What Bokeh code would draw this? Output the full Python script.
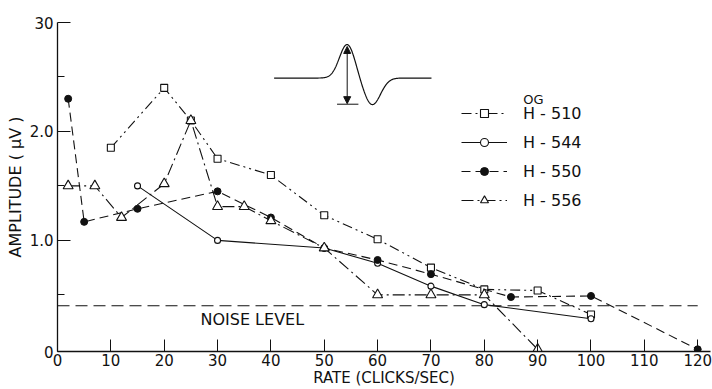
import numpy as np
from bokeh.plotting import figure
from bokeh.models import (Range1d, FixedTicker, Label, Arrow, NormalHead,
                          Legend, LegendItem)
from bokeh.embed import file_html
from bokeh.resources import INLINE

# ---------------- data ----------------
x_510 = [10, 20, 25, 30, 40, 50, 60, 70, 80, 90, 100]
y_510 = [1.85, 2.40, 2.10, 1.75, 1.60, 1.23, 1.01, 0.75, 0.55, 0.54, 0.32]

x_544 = [15, 30, 50, 60, 70, 80, 100]
y_544 = [1.50, 1.00, 0.93, 0.79, 0.58, 0.41, 0.28]

x_550 = [2, 5, 15, 30, 40, 50, 60, 70, 85, 100, 120]
y_550 = [2.30, 1.17, 1.29, 1.45, 1.21, 0.93, 0.82, 0.69, 0.48, 0.49, 0.0]

x_556 = [2, 7, 12, 20, 25, 30, 35, 40, 50, 60, 70, 80, 90]
y_556 = [1.50, 1.50, 1.21, 1.52, 2.10, 1.31, 1.31, 1.18, 0.93, 0.50, 0.50, 0.50, 0.0]

noise_level = 0.40
noise_x = [0, 120]

Y0 = -0.02  # small pad below zero so markers on the axis are not clipped
x_ticks = [0, 10, 20, 30, 40, 50, 60, 70, 80, 90, 100, 110, 120]
y_ticks = [Y0, 1, 2, 3]
y_minor = [0.5, 1.5, 2.5]
y_tick_labels = {Y0: "0", 1: "1.0", 2: "2.0", 3: "30"}

series_labels = ["H - 510", "H - 544", "H - 550", "H - 556"]

FONT = "DejaVu Sans"
INK = "#111111"

p = figure(width=712, height=389,
           x_range=Range1d(0, 122.4), y_range=Range1d(Y0, 3.0),
           output_backend="svg", toolbar_location=None,
           min_border_left=57, min_border_right=2,
           min_border_top=22, min_border_bottom=38)
p.outline_line_color = None
p.grid.visible = False
p.background_fill_color = "white"
p.border_fill_color = "white"

# axes
xa = p.xaxis[0]
xa.ticker = FixedTicker(ticks=x_ticks)
xa.major_tick_in = 12
xa.major_tick_out = 0
xa.minor_tick_in = 0
xa.minor_tick_out = 0
xa.major_label_standoff = 2
xa.axis_line_width = 1.3
xa.axis_line_color = INK
xa.major_tick_line_color = INK
xa.major_label_text_font = FONT
xa.major_label_text_font_size = "15px"
xa.major_label_text_color = INK
xa.axis_label = "RATE (CLICKS/SEC)"
xa.axis_label_standoff = 0
xa.axis_label_text_font = FONT
xa.axis_label_text_font_size = "15px"
xa.axis_label_text_font_style = "normal"
xa.axis_label_text_color = INK

ya = p.yaxis[0]
ya.ticker = FixedTicker(ticks=y_ticks, minor_ticks=y_minor)
ya.major_label_overrides = y_tick_labels
ya.major_tick_in = 13
ya.major_tick_out = 0
ya.minor_tick_in = 7
ya.minor_tick_out = 0
ya.major_label_standoff = 4
ya.axis_line_width = 1.3
ya.axis_line_color = INK
ya.major_tick_line_color = INK
ya.minor_tick_line_color = INK
ya.major_label_text_font = FONT
ya.major_label_text_font_size = "15px"
ya.major_label_text_color = INK
ya.axis_label = "AMPLITUDE ( μV )"
ya.axis_label_standoff = 2
ya.axis_label_text_font = FONT
ya.axis_label_text_font_size = "16px"
ya.axis_label_text_font_style = "normal"
ya.axis_label_text_color = INK

# noise level
p.line(noise_x, [noise_level, noise_level], line_color=INK, line_width=1.1, line_dash="12 6")
p.add_layout(Label(x=26.8, y=0.275, text="NOISE LEVEL", text_align="left", text_baseline="middle",
                   text_font=FONT, text_font_size="16px", text_color=INK))

# series
lw = 1.1
l510 = p.line(x_510, y_510, line_color=INK, line_width=lw, line_dash="10 4 2 4 2 4")
s510 = p.scatter(x_510, y_510, marker="square", size=7, fill_color="white", line_color=INK, line_width=1.1)

l544 = p.line(x_544, y_544, line_color=INK, line_width=lw)
s544 = p.scatter(x_544, y_544, marker="circle", size=6, fill_color="white", line_color=INK, line_width=1.1)

l550 = p.line(x_550, y_550, line_color=INK, line_width=lw, line_dash="9 5")
s550 = p.scatter(x_550, y_550, marker="circle", size=7, fill_color=INK, line_color=INK)

l556 = p.line(x_556, y_556, line_color=INK, line_width=lw, line_dash="12 4 2 4")
s556 = p.scatter(x_556, y_556, marker="triangle", size=10, fill_color="white", line_color=INK, line_width=1.1)

legend = Legend(items=[
    LegendItem(label=series_labels[0], renderers=[l510, s510]),
    LegendItem(label=series_labels[1], renderers=[l544, s544]),
    LegendItem(label=series_labels[2], renderers=[l550, s550]),
    LegendItem(label=series_labels[3], renderers=[l556, s556]),
], location=(404, 141))
legend.glyph_width = 46
legend.glyph_height = 20
legend.label_height = 20
legend.label_standoff = 16
legend.spacing = 9
legend.padding = 0
legend.margin = 0
legend.border_line_color = None
legend.background_fill_alpha = 0
legend.label_text_font = FONT
legend.label_text_font_size = "16px"
legend.label_text_color = INK
p.add_layout(legend)

p.add_layout(Label(x=87.3, y=2.294, text="OG", text_align="left", text_baseline="middle",
                   text_font=FONT, text_font_size="13px", text_color=INK))

# inset waveform illustration (schematic, not data)
wx = np.linspace(40.6, 70.1, 400)
wy = 2.49 + 0.31 * np.exp(-0.5 * ((wx - 54.3) / 1.45) ** 2) - 0.245 * np.exp(-0.5 * ((wx - 59.0) / 1.55) ** 2)
p.line(wx, wy, line_color=INK, line_width=1.2)
p.add_layout(Arrow(start=NormalHead(size=7, fill_color=INK, line_color=INK),
                   end=NormalHead(size=7, fill_color=INK, line_color=INK),
                   x_start=54.3, y_start=2.78, x_end=54.3, y_end=2.255,
                   line_color=INK, line_width=1.0))
p.line([52.4, 56.4], [2.25, 2.25], line_color=INK, line_width=1.0)

open("out.html", "w").write(file_html(p, INLINE))
